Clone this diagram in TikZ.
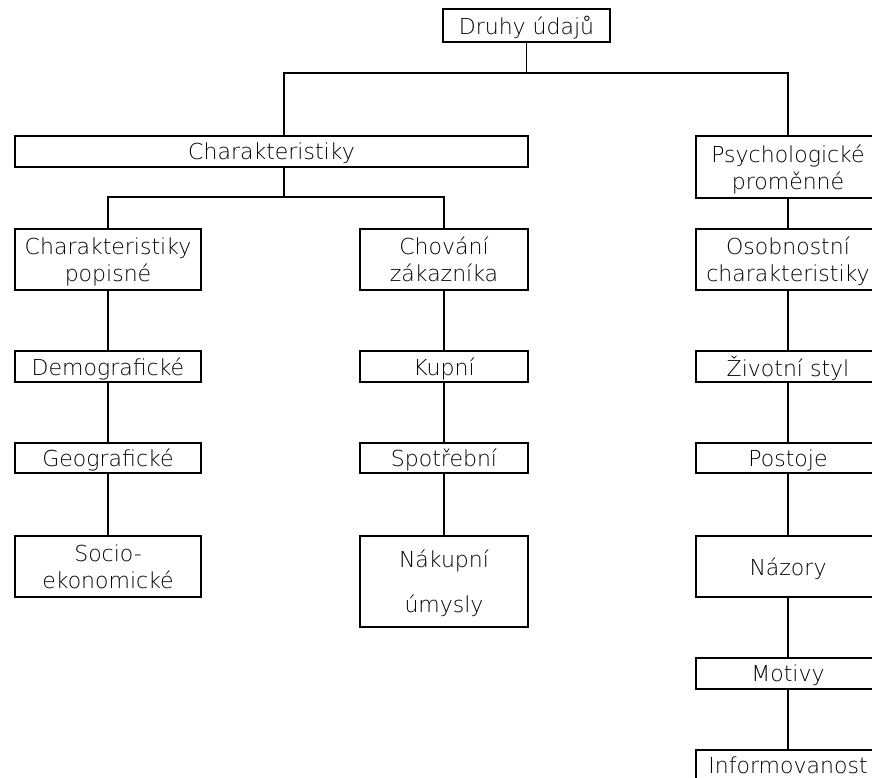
\documentclass[tikz,border=0pt]{standalone}
\usepackage{fontspec}
\setmainfont{DejaVu Sans ExtraLight}
\begin{document}
\begin{tikzpicture}[x=1pt,y=-1pt,
  box/.style={draw, line width=1.2pt, inner sep=0pt, align=center, font=\fontsize{22}{27}\selectfont, text depth=0pt},
  box2/.style={box, text depth=-5pt},
  ln/.style={line width=1.2pt}]
\useasboundingbox[fill=white] (0,0) rectangle (872,778);
% top
\node[box, minimum width=167pt, minimum height=33pt] (druhy) at (526.5,25.5) {Druhy údajů};
% level 1
\node[box, minimum width=513pt, minimum height=31pt] (char) at (271.5,151.5) {Charakteristiky};
\node[box2, minimum width=184pt, minimum height=62pt] (psy) at (788,167) {Psychologické\\proměnné};
% level 2
\node[box2, minimum width=186pt, minimum height=61pt] (popis) at (108,259.5) {Charakteristiky\\popisné};
\node[box2, minimum width=168pt, minimum height=61pt] (chov) at (444,259.5) {Chování\\zákazníka};
\node[box2, minimum width=184pt, minimum height=61pt] (osob) at (788,259.5) {Osobnostní\\charakteristiky};
% left column
\node[box, minimum width=186pt, minimum height=31pt] (dem) at (108,366.5) {Demografické};
\node[box, minimum width=186pt, minimum height=30pt] (geo) at (108,458) {Geografické};
\node[box2, minimum width=186pt, minimum height=61pt] (soc) at (108,566.5) {Socio-\\ekonomické};
% middle column
\node[box, minimum width=168pt, minimum height=31pt] (kup) at (444,366.5) {Kupní};
\node[box, minimum width=168pt, minimum height=30pt] (spo) at (444,458) {Spotřební};
\node[box2, minimum width=168pt, minimum height=91pt] (nak) at (444,581.5) {Nákupní\\[18pt]úmysly};
% right column
\node[box, minimum width=184pt, minimum height=31pt] (ziv) at (788,366.5) {Životní styl};
\node[box, minimum width=184pt, minimum height=30pt] (pos) at (788,458) {Postoje};
\node[box, minimum width=184pt, minimum height=61pt] (naz) at (788,566.5) {Názory};
\node[box, minimum width=184pt, minimum height=31pt] (mot) at (788,673.5) {Motivy};
\node[box, minimum width=184pt, minimum height=31pt] (inf) at (788,765.5) {Informovanost};
% junctions
\coordinate (jtop) at (527,73);
\coordinate (jl) at (284,73);
\coordinate (jr) at (788,73);
\coordinate (cm) at (284,197);
% connectors
\draw[ln] (druhy.south) -- (druhy.south |- jtop);
\draw[ln] (char.north -| jl) -- (jl) -- (jr) -- (psy.north);
\draw[ln] (char.south -| cm) -- (cm);
\draw[ln] (popis.north) |- (cm) -| (chov.north);
\draw[ln] (popis) -- (dem);
\draw[ln] (dem) -- (geo);
\draw[ln] (geo) -- (soc);
\draw[ln] (chov) -- (kup);
\draw[ln] (kup) -- (spo);
\draw[ln] (spo) -- (nak);
\draw[ln] (psy) -- (osob);
\draw[ln] (osob) -- (ziv);
\draw[ln] (ziv) -- (pos);
\draw[ln] (pos) -- (naz);
\draw[ln] (naz) -- (mot);
\draw[ln] (mot) -- (inf);
\end{tikzpicture}
\end{document}
